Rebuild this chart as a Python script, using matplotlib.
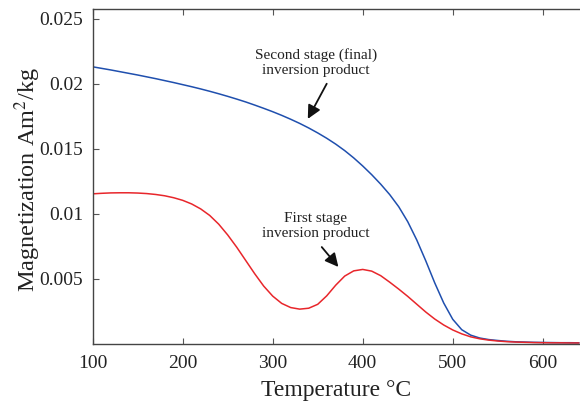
import numpy as np
import matplotlib
matplotlib.use("Agg")
import matplotlib.pyplot as plt

plt.rcParams['font.family'] = ['Liberation Serif', 'DejaVu Serif']
plt.rcParams['mathtext.fontset'] = 'stix'

# temperature grid (deg C)
temp = [100, 110, 120, 130, 140, 150, 160, 170, 180, 190,
        200, 210, 220, 230, 240, 250, 260, 270, 280, 290,
        300, 310, 320, 330, 340, 350, 360, 370, 380, 390,
        400, 410, 420, 430, 440, 450, 460, 470, 480, 490,
        500, 510, 520, 530, 540, 550, 560, 570, 580, 590,
        600, 610, 620, 630, 640]

# second stage (final) inversion product
second_stage = [0.02130, 0.02118, 0.02106, 0.02093, 0.02080, 0.02067, 0.02053, 0.02039, 0.02024, 0.02009,
                0.01993, 0.01977, 0.01960, 0.01942, 0.01923, 0.01903, 0.01882, 0.01860, 0.01836, 0.01811,
                0.01785, 0.01757, 0.01727, 0.01695, 0.01660, 0.01622, 0.01581, 0.01536, 0.01486, 0.01430,
                0.01368, 0.01301, 0.01228, 0.01148, 0.01055, 0.00940, 0.00800, 0.00640, 0.00470, 0.00315,
                0.00190, 0.00110, 0.00068, 0.00046, 0.00034, 0.00027, 0.00021, 0.00017, 0.00015, 0.00013,
                0.00012, 0.00011, 0.00010, 0.00010, 0.00009]

# first stage inversion product
first_stage = [0.01154, 0.01158, 0.01161, 0.01162, 0.01162, 0.01160, 0.01156, 0.01149, 0.01139, 0.01124,
               0.01104, 0.01076, 0.01038, 0.00988, 0.00921, 0.00838, 0.00744, 0.00642, 0.00540, 0.00445,
               0.00368, 0.00312, 0.00280, 0.00268, 0.00275, 0.00305, 0.00370, 0.00452, 0.00522, 0.00562,
               0.00573, 0.00560, 0.00525, 0.00475, 0.00422, 0.00366, 0.00306, 0.00246, 0.00192, 0.00146,
               0.00108, 0.00078, 0.00055, 0.00040, 0.00030, 0.00023, 0.00018, 0.00015, 0.00013, 0.00011,
               0.00010, 0.00009, 0.00009, 0.00008, 0.00008]

xticks = [100, 200, 300, 400, 500, 600]
yticks = [0.005, 0.01, 0.015, 0.02, 0.025]
ytick_labels = ['0.005', '0.01', '0.015', '0.02', '0.025']

fig = plt.figure(figsize=(5.8, 4.04), dpi=100)
ax = fig.add_axes([0.1598, 0.1485, 0.8402, 0.8285])

ax.plot(temp, second_stage, color='#1f4fae', lw=1.1)
ax.plot(temp, first_stage, color='#e8262b', lw=1.1)

ax.set_xlim(100, 641.4)
ax.set_ylim(0, 0.02572)
ax.set_xticks(xticks)
ax.set_yticks(yticks, labels=ytick_labels)

ax.tick_params(direction='in', top=True, right=False, length=4, width=0.8,
               labelsize=14, color='#555555', labelcolor='#222222')
ax.tick_params(axis='x', pad=8)
ax.tick_params(axis='y', pad=7)
for s in ['left', 'bottom', 'top']:
    ax.spines[s].set_color('#444444')
    ax.spines[s].set_linewidth(1.0)
ax.spines['right'].set_visible(False)

ax.set_xlabel('Temperature \u00b0C', fontsize=17, color='#222222', labelpad=6)
ax.set_ylabel('Magnetization Am$^2$/kg', fontsize=17.5, color='#222222')
ax.yaxis.set_label_coords(-0.102, 0.49)

arrow = dict(arrowstyle='-|>', color='#111111', lw=1.3, mutation_scale=20, shrinkA=0, shrinkB=0)
ax.text(348, 0.02165, 'Second stage (final)\ninversion product', ha='center', va='center',
        fontsize=11, color='#222222', linespacing=1.2)
ax.annotate('', xy=(339, 0.0173), xytext=(360, 0.0200), arrowprops=arrow)
ax.text(348, 0.0091, 'First stage\ninversion product', ha='center', va='center',
        fontsize=11, color='#222222', linespacing=1.2)
ax.annotate('', xy=(373, 0.00592), xytext=(354.5, 0.00745), arrowprops=arrow)

fig.savefig('out.png', dpi=100)
